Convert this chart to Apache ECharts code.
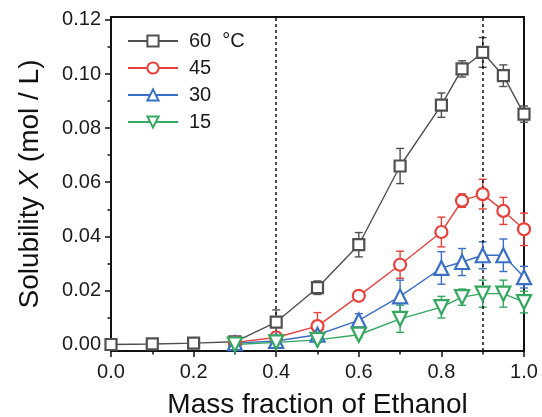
<!DOCTYPE html>
<html>
<head>
<meta charset="UTF-8"/>
<title>Solubility</title>
<script src="https://cdn.jsdelivr.net/npm/echarts@6/dist/echarts.min.js"></script>
<style>
html, body { margin: 0; padding: 0; background: #fff; }
#chart { width: 542px; height: 417px; }
</style>
</head>
<body>
<div id="chart"></div>
<script type="text/javascript">
// mass fraction of ethanol
var xAll = [0, 0.1, 0.2, 0.3, 0.4, 0.5, 0.6, 0.7, 0.8, 0.85, 0.9, 0.95, 1.0];
var xSub = [0.3, 0.4, 0.5, 0.6, 0.7, 0.8, 0.85, 0.9, 0.95, 1.0];

// solubility X (mol / L) and error
var t60 = [0, 0.0002, 0.0005, 0.001, 0.0083, 0.021, 0.0369, 0.066, 0.0885, 0.1019, 0.108, 0.0994, 0.0852];
var e60 = [0, 0, 0, 0.0004, 0.0045, 0.0025, 0.0045, 0.0065, 0.0045, 0.003, 0.0055, 0.004, 0.003];
var t45 = [0.0008, 0.0026, 0.0068, 0.018, 0.0295, 0.0416, 0.0532, 0.0556, 0.0494, 0.0426];
var e45 = [0.0003, 0.002, 0.005, 0.0018, 0.005, 0.0055, 0.0025, 0.0055, 0.005, 0.006];
var t30 = [0.0005, 0.0013, 0.0036, 0.0089, 0.0178, 0.0283, 0.0305, 0.033, 0.033, 0.0249];
var e30 = [0.0003, 0.001, 0.0015, 0.0025, 0.006, 0.006, 0.005, 0.005, 0.006, 0.004];
var t15 = [0, 0.0008, 0.0017, 0.0036, 0.0095, 0.0138, 0.0175, 0.0188, 0.0188, 0.0157];
var e15 = [0.0002, 0.0005, 0.001, 0.001, 0.005, 0.004, 0.003, 0.005, 0.005, 0.004];

var names = ['60  °C', '45', '30', '15'];
var colors = ['#505050', '#e8403a', '#3b6fc6', '#33a85e'];

var yMajor = [0, 0.02, 0.04, 0.06, 0.08, 0.10, 0.12];
var yMinor = [0.01, 0.03, 0.05, 0.07, 0.09, 0.11];
var markX = [0.4, 0.9];

var FONT = '"Liberation Sans", Arial, sans-serif';

function pairs(xs, ys) {
  return xs.map(function (x, i) { return [x, ys[i]]; });
}
function triples(xs, ys, es) {
  return xs.map(function (x, i) { return [x, ys[i], es[i]]; });
}

function errRender(color) {
  return function (params, api) {
    var x = api.value(0), y = api.value(1), e = api.value(2);
    if (!e) return null;
    var top = api.coord([x, y + e]);
    var bot = api.coord([x, y - e]);
    var w = 4;
    var st = { stroke: color, lineWidth: 1.4 };
    return {
      type: 'group',
      children: [
        { type: 'line', shape: { x1: top[0], y1: top[1], x2: bot[0], y2: bot[1] }, style: st },
        { type: 'line', shape: { x1: top[0] - w, y1: top[1], x2: top[0] + w, y2: top[1] }, style: st },
        { type: 'line', shape: { x1: bot[0] - w, y1: bot[1], x2: bot[0] + w, y2: bot[1] }, style: st }
      ]
    };
  };
}

function lineSeries(name, data, color, symbol, size, rotate) {
  return {
    name: name,
    type: 'line',
    data: data,
    symbol: symbol,
    symbolSize: size,
    symbolRotate: rotate || 0,
    z: 5,
    lineStyle: { color: color, width: 1.4 },
    itemStyle: { color: '#fff', borderColor: color, borderWidth: 2.2 }
  };
}

function errSeries(data, color) {
  return {
    type: 'custom',
    renderItem: errRender(color),
    data: data,
    encode: { x: 0, y: 1 },
    z: 3,
    silent: true
  };
}

var s60 = lineSeries(names[0], pairs(xAll, t60), colors[0], 'rect', 11);
s60.markLine = {
  silent: true,
  symbol: 'none',
  label: { show: false },
  lineStyle: { color: '#111', type: [3, 3], width: 1.5 },
  data: markX.map(function (v) { return { xAxis: v }; })
};

var myChart = echarts.init(document.getElementById('chart'));
var option = {
  animation: false,
  textStyle: { fontFamily: FONT },
  grid: {
    left: 111, right: 18, top: 17, bottom: 66,
    containLabel: false,
    outerBoundsMode: 'none',
    show: true, borderColor: '#111', borderWidth: 2
  },
  legend: {
    data: names,
    orient: 'vertical',
    left: 122,
    top: 26,
    itemWidth: 50,
    itemHeight: 14,
    itemGap: 7,
    textStyle: { fontSize: 20, color: '#1a1a1a', fontFamily: FONT, lineHeight: 20, padding: [0, 0, 0, 6] }
  },
  xAxis: {
    type: 'value',
    min: 0, max: 1, interval: 0.2,
    name: 'Mass fraction of Ethanol',
    nameLocation: 'middle',
    nameGap: 40,
    nameTextStyle: { fontSize: 28, color: '#111', fontFamily: FONT },
    axisLine: { show: true, onZero: false, lineStyle: { color: '#111', width: 2 } },
    axisTick: { show: true, length: 6, lineStyle: { color: '#111', width: 1.5 } },
    minorTick: { show: true, splitNumber: 2, length: 3.5, lineStyle: { color: '#111', width: 1.5 } },
    axisLabel: { fontSize: 20, color: '#1a1a1a', margin: 11, formatter: function (v) { return v.toFixed(1); } },
    splitLine: { show: false }
  },
  yAxis: [{
    type: 'value',
    min: -0.0024, max: 0.1211,
    name: 'Solubility {i|X} (mol / L)',
    nameLocation: 'middle',
    nameGap: 67,
    nameTextStyle: { fontSize: 28, color: '#111', fontFamily: FONT, rich: { i: { fontStyle: 'italic', fontSize: 28, fontFamily: FONT, color: '#111' } } },
    axisLine: { show: true, onZero: false, lineStyle: { color: '#111', width: 2 } },
    axisTick: { show: true, length: 6, customValues: yMajor, lineStyle: { color: '#111', width: 1.5 } },
    axisLabel: { fontSize: 20, color: '#1a1a1a', margin: 10, customValues: yMajor, formatter: function (v) { return v.toFixed(2); } },
    splitLine: { show: false }
  }, {
    type: 'value',
    position: 'left',
    min: -0.0024, max: 0.1211,
    axisLine: { show: false, onZero: false },
    axisTick: { show: true, length: 3.5, customValues: yMinor, lineStyle: { color: '#111', width: 1.5 } },
    axisLabel: { show: false },
    splitLine: { show: false }
  }],
  series: [
    errSeries(triples(xAll, t60, e60), colors[0]),
    errSeries(triples(xSub, t45, e45), colors[1]),
    errSeries(triples(xSub, t30, e30), colors[2]),
    errSeries(triples(xSub, t15, e15), colors[3]),
    s60,
    lineSeries(names[1], pairs(xSub, t45), colors[1], 'circle', 12),
    lineSeries(names[2], pairs(xSub, t30), colors[2], 'triangle', 14),
    lineSeries(names[3], pairs(xSub, t15), colors[3], 'triangle', 14, 180)
  ]
};
myChart.setOption(option);
</script>
</body>
</html>
